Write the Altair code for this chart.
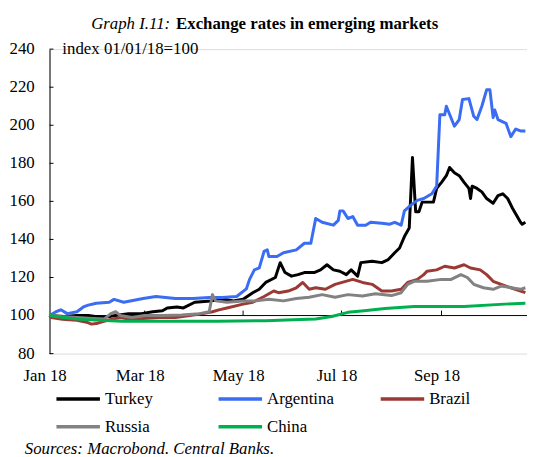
import altair as alt
import pandas as pd

FONT = "Liberation Serif"

countries = ["Turkey", "Argentina", "Brazil", "Russia", "China"]
colors = ["#000000", "#3a6cf4", "#9b3a35", "#828282", "#00b050"]

turkey_dates = ["2018-01-01", "2018-01-10", "2018-01-18", "2018-01-25", "2018-02-03", "2018-02-11",
                "2018-02-19", "2018-02-27", "2018-03-06", "2018-03-12", "2018-03-15", "2018-03-21",
                "2018-03-25", "2018-04-01", "2018-04-11", "2018-04-19", "2018-04-25", "2018-05-01",
                "2018-05-07", "2018-05-11", "2018-05-15", "2018-05-21", "2018-05-24", "2018-05-27",
                "2018-05-31", "2018-06-04", "2018-06-08", "2018-06-14", "2018-06-18", "2018-06-22",
                "2018-06-26", "2018-06-30", "2018-07-04", "2018-07-07", "2018-07-11", "2018-07-13",
                "2018-07-20", "2018-07-26", "2018-07-30", "2018-08-03", "2018-08-06", "2018-08-09",
                "2018-08-12", "2018-08-14", "2018-08-16", "2018-08-18", "2018-08-20", "2018-08-27",
                "2018-08-29", "2018-09-01", "2018-09-04", "2018-09-06", "2018-09-09", "2018-09-12",
                "2018-09-15", "2018-09-18", "2018-09-19", "2018-09-20", "2018-09-23", "2018-09-26",
                "2018-09-29", "2018-10-03", "2018-10-06", "2018-10-09", "2018-10-12", "2018-10-15",
                "2018-10-20", "2018-10-21", "2018-10-23"]
turkey_values = [100, 99.5, 100, 100, 99, 100,
                 101, 101, 102, 102.5, 104, 104.5,
                 104, 107, 107.7, 108.6, 107.7, 108.6,
                 112, 113.8, 117.4, 120, 127.8, 122.6,
                 120.7, 121.5, 122.6, 122.6, 124, 126.7,
                 124, 123.3, 121.5, 124, 120.7, 127.8,
                 128.5, 127.8, 129.4, 133, 135.5, 141.5,
                 146, 183, 154.5, 154.5, 159.6, 159.6,
                 166.8, 170, 173.5, 177.8, 175, 173.5,
                 170, 166.8, 161.5, 168, 166.8, 165,
                 161.5, 159, 163, 164, 161.5, 156.4,
                 149, 148, 149]

argentina_dates = ["2018-01-01", "2018-01-05", "2018-01-08", "2018-01-12", "2018-01-18", "2018-01-22",
                   "2018-01-25", "2018-01-30", "2018-02-07", "2018-02-10", "2018-02-16", "2018-02-28",
                   "2018-03-08", "2018-03-20", "2018-03-31", "2018-04-10", "2018-04-18", "2018-04-27",
                   "2018-05-03", "2018-05-05", "2018-05-08", "2018-05-11", "2018-05-14", "2018-05-16",
                   "2018-05-17", "2018-05-22", "2018-05-26", "2018-06-03", "2018-06-08", "2018-06-12",
                   "2018-06-15", "2018-06-19", "2018-06-26", "2018-06-29", "2018-06-30", "2018-07-02",
                   "2018-07-05", "2018-07-08", "2018-07-11", "2018-07-16", "2018-07-19", "2018-07-26",
                   "2018-07-31", "2018-08-03", "2018-08-07", "2018-08-09", "2018-08-13", "2018-08-17",
                   "2018-08-21", "2018-08-26", "2018-08-29", "2018-08-31", "2018-09-03", "2018-09-04",
                   "2018-09-09", "2018-09-12", "2018-09-14", "2018-09-18", "2018-09-21", "2018-09-23",
                   "2018-09-26", "2018-09-29", "2018-10-01", "2018-10-03", "2018-10-04", "2018-10-06",
                   "2018-10-11", "2018-10-14", "2018-10-17", "2018-10-20", "2018-10-23"]
argentina_values = [100, 102, 103, 101, 102, 104.5,
                    105.5, 106.5, 107, 108.5, 107, 109,
                    110, 109, 109, 109.5, 109.5, 110,
                    114, 119, 124, 125, 133.7, 134.5,
                    131, 131, 133, 134.5, 138, 138,
                    151, 149, 147.5, 150, 155, 155,
                    151, 152, 147.5, 147.5, 149, 148.5,
                    148, 149, 147.5, 155, 158, 160.5,
                    161.5, 164, 168, 205.5, 205.5, 210,
                    199.5, 203, 213.5, 214, 204.7, 203,
                    210, 218.7, 218.7, 204, 208, 203,
                    201, 194, 198, 197, 197]

brazil_dates = ["2018-01-01", "2018-01-02", "2018-01-09", "2018-01-18", "2018-01-24", "2018-01-27",
                "2018-01-31", "2018-02-08", "2018-02-14", "2018-02-20", "2018-02-28", "2018-03-10",
                "2018-03-20", "2018-03-29", "2018-04-06", "2018-04-12", "2018-04-16", "2018-04-21",
                "2018-05-01", "2018-05-07", "2018-05-14", "2018-05-20", "2018-05-23", "2018-05-29",
                "2018-06-03", "2018-06-07", "2018-06-11", "2018-06-15", "2018-06-21", "2018-06-27",
                "2018-07-08", "2018-07-14", "2018-07-20", "2018-07-26", "2018-08-01", "2018-08-07",
                "2018-08-11", "2018-08-17", "2018-08-21", "2018-08-23", "2018-08-29", "2018-09-03",
                "2018-09-09", "2018-09-15", "2018-09-19", "2018-09-25", "2018-09-29", "2018-10-03",
                "2018-10-08", "2018-10-14", "2018-10-20", "2018-10-23"]
brazil_values = [100, 99, 98, 97.5, 96.5, 95.5,
                 96, 98, 99, 98, 98.5, 99,
                 99, 100, 101, 102, 103, 104,
                 106, 107, 110, 112.9, 112, 112.9,
                 114.6, 117.4, 113.8, 114.6, 113.8, 116.4,
                 119, 117.4, 116.4, 112.9, 112.9, 113.8,
                 117.4, 119, 121.5, 123.3, 124, 125.9,
                 125, 126.7, 125, 124, 121.5, 118,
                 116.4, 114.6, 112.9, 112]

russia_dates = ["2018-01-01", "2018-01-08", "2018-01-18", "2018-01-28", "2018-02-04", "2018-02-08",
                "2018-02-11", "2018-02-14", "2018-02-21", "2018-03-01", "2018-03-12", "2018-03-24",
                "2018-04-04", "2018-04-10", "2018-04-12", "2018-04-14", "2018-04-21", "2018-05-01",
                "2018-05-09", "2018-05-17", "2018-05-26", "2018-06-03", "2018-06-11", "2018-06-19",
                "2018-06-27", "2018-07-05", "2018-07-14", "2018-07-22", "2018-08-01", "2018-08-07",
                "2018-08-11", "2018-08-15", "2018-08-23", "2018-09-01", "2018-09-07", "2018-09-13",
                "2018-09-17", "2018-09-21", "2018-09-27", "2018-10-03", "2018-10-08", "2018-10-14",
                "2018-10-20", "2018-10-23"]
russia_values = [100, 99.5, 99, 98.5, 98.2, 101,
                 102, 100, 99, 100, 100, 100.3,
                 101, 102, 111, 107.7, 107, 107.7,
                 107.7, 108.6, 107.7, 109, 109.6, 111,
                 109.6, 111, 110.3, 111.5, 110.5, 112,
                 116.4, 118, 118, 119, 119, 121.5,
                 120, 116.4, 114.6, 113.8, 115.5, 114.6,
                 113.8, 114.6]

china_dates = ["2018-01-01", "2018-01-10", "2018-01-20", "2018-02-01", "2018-02-15", "2018-03-15",
               "2018-04-15", "2018-05-15", "2018-06-01", "2018-06-15", "2018-06-25", "2018-07-05",
               "2018-07-15", "2018-07-28", "2018-08-15", "2018-09-15", "2018-10-10", "2018-10-23"]
china_values = [100, 99, 98, 97.5, 97, 97,
                97, 97.3, 97.8, 98.2, 99.5, 101.7,
                102.5, 103.7, 104.8, 104.8, 106, 106.5]

y_ticks = [80, 100, 120, 140, 160, 180, 200, 220, 240]
month_ticks = ["2018-03-01", "2018-05-01", "2018-07-01", "2018-09-01"]

title_italic = "Graph I.11:"
title_bold = "Exchange rates in emerging markets"
unit_note = "index 01/01/18=100"
source_note = "Sources: Macrobond. Central Banks."

series = [
    ("Turkey", turkey_dates, turkey_values),
    ("Argentina", argentina_dates, argentina_values),
    ("Brazil", brazil_dates, brazil_values),
    ("Russia", russia_dates, russia_values),
    ("China", china_dates, china_values),
]
rows = []
for order, (name, dates, values) in enumerate(series):
    for d, v in zip(dates, values):
        rows.append({"date": d + "T00:00:00", "value": v, "country": name, "order": order})
df = pd.DataFrame(rows)

W, H = 483, 308

x_scale = alt.Scale(domain=[alt.DateTime(year=2018, month=1, date=1),
                            alt.DateTime(year=2018, month=10, date=24)])
y_scale = alt.Scale(domain=[80, 240], nice=False, zero=False)

label_values = [alt.DateTime(year=2018, month=m, date=1) for m in (1, 3, 5, 7, 9)]

x_axis = alt.Axis(values=label_values, format="%b %y", title=None, ticks=False,
                  domain=False, grid=False, labelFont=FONT, labelFontSize=17,
                  labelColor="black", labelPadding=14, labelOffset=-5,
                  labelFlush=False, labelOverlap=False)
y_axis = alt.Axis(values=y_ticks, title=None, ticks=False, grid=False, labels=False,
                  domainColor="black")

lines = alt.Chart(df).mark_line(strokeWidth=3, strokeJoin="round").encode(
    x=alt.X("date:T", scale=x_scale, axis=x_axis),
    y=alt.Y("value:Q", scale=y_scale, axis=y_axis),
    color=alt.Color("country:N",
                    scale=alt.Scale(domain=countries, range=colors),
                    legend=alt.Legend(orient="none", legendX=19, legendY=344, columns=3,
                                      direction="horizontal",
                                      title=None, symbolType="M-2.75,0H2.75", symbolSize=256,
                                      symbolStrokeWidth=3.5, labelFont=FONT, labelFontSize=17,
                                      labelColor="black", labelOffset=17, gridAlign="all",
                                      columnPadding=40, rowPadding=10)),
    order=alt.Order("order:Q"),
    detail="country:N",
)

baseline = alt.Chart(pd.DataFrame({"v": [100]})).mark_rule(color="black", strokeWidth=1).encode(
    y=alt.Y("v:Q", scale=y_scale, axis=y_axis)
)

xticks_df = pd.DataFrame({"date": [d + "T00:00:00" for d in month_ticks]})
xticks = alt.Chart(xticks_df).mark_rule(color="black", strokeWidth=1).encode(
    x=alt.X("date:T", scale=x_scale, axis=x_axis),
    y=alt.datum(100),
    y2=alt.datum(102.6),
)

ytick_df = pd.DataFrame({"v": y_ticks})
yticks = alt.Chart(ytick_df).mark_rule(color="black", strokeWidth=1).encode(
    y=alt.Y("v:Q", scale=y_scale, axis=y_axis),
    x=alt.value(0),
    x2=alt.value(4),
)
ylabels = alt.Chart(ytick_df).mark_text(font=FONT, fontSize=17, align="right",
                                        baseline="middle", color="black").encode(
    y=alt.Y("v:Q", scale=y_scale, axis=y_axis),
    x=alt.value(-15),
    text=alt.Text("v:Q", format="d"),
)

text_df = pd.DataFrame({"t": [0]})
t_italic = alt.Chart(text_df).mark_text(font=FONT, fontSize=17, fontStyle="italic", align="right",
                                        baseline="middle", color="black").encode(
    x=alt.value(122), y=alt.value(-25), text=alt.value(title_italic))
t_bold = alt.Chart(text_df).mark_text(font=FONT, fontSize=17, fontWeight="bold", align="left",
                                      baseline="middle", color="black").encode(
    x=alt.value(128), y=alt.value(-25), text=alt.value(title_bold))
t_unit = alt.Chart(text_df).mark_text(font=FONT, fontSize=17, align="left",
                                      baseline="middle", color="black").encode(
    x=alt.value(13), y=alt.value(0), text=alt.value(unit_note))
t_source = alt.Chart(text_df).mark_text(font=FONT, fontSize=17, fontStyle="italic", align="left",
                                        baseline="middle", color="black").encode(
    x=alt.value(-25), y=alt.value(405), text=alt.value(source_note))

chart = alt.layer(baseline, xticks, yticks, ylabels, lines, t_italic, t_bold, t_unit,
                  t_source).properties(
    width=W, height=H,
    autosize=alt.AutoSizeParams(type="none"),
    padding={"left": 42, "top": 39, "right": 0, "bottom": 104},
).configure_view(stroke=None).configure(background="white")

chart.save("out.html", embed_options={"renderer": "svg", "actions": False})
